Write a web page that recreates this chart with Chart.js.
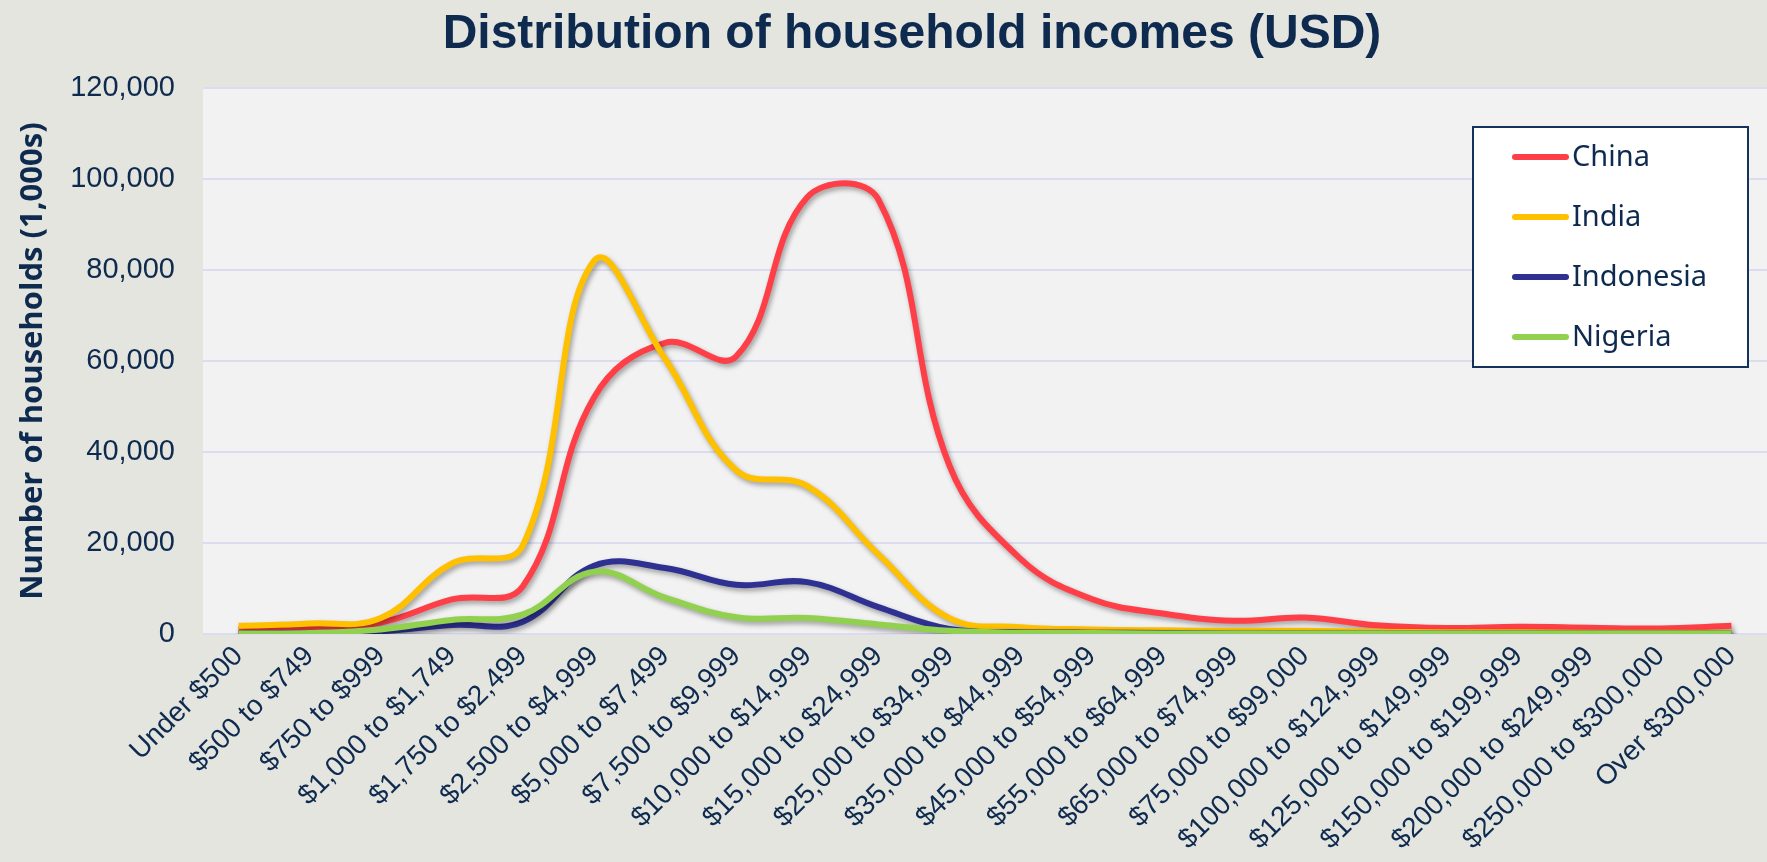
<!DOCTYPE html>
<html>
<head>
<meta charset="utf-8">
<title>Distribution of household incomes (USD)</title>
<script src="https://cdn.jsdelivr.net/npm/chart.js@4.4.1/dist/chart.umd.min.js"></script>
<style>
  html, body { margin: 0; padding: 0; background: #e4e5df; }
  canvas { display: block; }
</style>
</head>
<body>
<canvas id="incomeChart" width="1767" height="862"></canvas>
<script>
// income brackets (x axis)
const brackets = [
  'Under $500', '$500 to $749', '$750 to $999', '$1,000 to $1,749', '$1,750 to $2,499',
  '$2,500 to $4,999', '$5,000 to $7,499', '$7,500 to $9,999', '$10,000 to $14,999',
  '$15,000 to $24,999', '$25,000 to $34,999', '$35,000 to $44,999', '$45,000 to $54,999',
  '$55,000 to $64,999', '$65,000 to $74,999', '$75,000 to $99,000', '$100,000 to $124,999',
  '$125,000 to $149,999', '$150,000 to $199,999', '$200,000 to $249,999',
  '$250,000 to $300,000', 'Over $300,000'
];

// households in thousands
const china     = [1100, 1300, 2500, 7600, 10500, 52000, 64000, 61000, 96000, 95500, 37000, 16500, 7700, 4500, 2900, 3600, 1900, 1300, 1600, 1400, 1200, 1800];
const india     = [1800, 2300, 3500, 15500, 19500, 82000, 60500, 36000, 32500, 17500, 3500, 1500, 1000, 800, 700, 700, 500, 400, 400, 300, 300, 300];
const indonesia = [100, 200, 600, 2000, 2700, 15000, 14500, 10800, 11400, 5900, 1100, 400, 300, 200, 100, 100, 100, 100, 100, 100, 100, 100];
const nigeria   = [100, 200, 1000, 3100, 4300, 13700, 8000, 3700, 3500, 2100, 700, 300, 200, 100, 100, 100, 100, 100, 100, 100, 100, 100];

const yTicks = [0, 20000, 40000, 60000, 80000, 100000, 120000];

const navy = '#0e2a4f';
const chartTitle = 'Distribution of household incomes (USD)';

// grey page, lighter plot area
const backgroundPlugin = {
  id: 'backgrounds',
  beforeDraw(chart) {
    const { ctx, chartArea } = chart;
    ctx.save();
    ctx.fillStyle = '#e4e5df';
    ctx.fillRect(0, 0, chart.width, chart.height);
    ctx.fillStyle = '#f2f2f2';
    ctx.fillRect(chartArea.left, chartArea.top, chartArea.right - chartArea.left, chartArea.bottom - chartArea.top);
    ctx.restore();
  }
};

// soft drop shadow under the lines, like the original
const shadowPlugin = {
  id: 'lineShadow',
  beforeDatasetDraw(chart) {
    const ctx = chart.ctx;
    ctx.save();
    ctx.shadowColor = 'rgba(0, 0, 0, 0.35)';
    ctx.shadowBlur = 5;
    ctx.shadowOffsetX = 2;
    ctx.shadowOffsetY = 3;
  },
  afterDatasetDraw(chart) {
    chart.ctx.restore();
  }
};

// title sits a bit right of the canvas centre, so draw it by hand
const titlePlugin = {
  id: 'bigTitle',
  afterDraw(chart) {
    const ctx = chart.ctx;
    ctx.save();
    ctx.font = 'bold 48px "Liberation Sans", Arial, sans-serif';
    ctx.fillStyle = navy;
    ctx.textAlign = 'center';
    ctx.textBaseline = 'middle';
    ctx.fillText(chartTitle, 912, 35);
    ctx.restore();
  }
};

// boxed legend inside the plot, top right
const legendPlugin = {
  id: 'boxLegend',
  afterDraw(chart) {
    const ctx = chart.ctx;
    const box = { x: 1473, y: 127, w: 275, h: 240 };
    ctx.save();
    ctx.fillStyle = '#ffffff';
    ctx.fillRect(box.x, box.y, box.w, box.h);
    ctx.strokeStyle = '#14325a';
    ctx.lineWidth = 2;
    ctx.strokeRect(box.x, box.y, box.w, box.h);
    ctx.font = '29px "Noto Sans", "Open Sans", sans-serif';
    ctx.textBaseline = 'middle';
    ctx.lineCap = 'round';
    chart.data.datasets.forEach((ds, i) => {
      const y = 157 + i * 60;
      ctx.strokeStyle = ds.borderColor;
      ctx.lineWidth = 6;
      ctx.beginPath();
      ctx.moveTo(1515, y);
      ctx.lineTo(1566, y);
      ctx.stroke();
      ctx.fillStyle = navy;
      ctx.fillText(ds.label, 1572, y + 1);
    });
    ctx.restore();
  }
};

function makeSeries(label, data, color, order) {
  return {
    label: label,
    data: data,
    borderColor: color,
    backgroundColor: color,
    borderWidth: 6,
    pointRadius: 0,
    tension: 0.4,
    fill: false,
    order: order
  };
}

const ctx = document.getElementById('incomeChart');
new Chart(ctx, {
  type: 'line',
  data: {
    labels: brackets,
    datasets: [
      makeSeries('China', china, '#ff3f47', 4),
      makeSeries('India', india, '#ffc000', 3),
      makeSeries('Indonesia', indonesia, '#2e3192', 2),
      makeSeries('Nigeria', nigeria, '#92d050', 1)
    ]
  },
  options: {
    responsive: false,
    animation: false,
    layout: { padding: { top: 88, right: -13, left: 0, bottom: 0 } },
    plugins: {
      legend: { display: false },
      title: { display: false },
      tooltip: { enabled: false }
    },
    scales: {
      x: {
        offset: true,
        grid: { display: false, drawTicks: false },
        border: { display: false },
        ticks: {
          color: navy,
          font: { family: '"Liberation Sans", Arial, sans-serif', size: 28 },
          minRotation: 45,
          maxRotation: 45,
          autoSkip: false,
          padding: 6
        },
        afterFit(scale) { scale.height = 228; }
      },
      y: {
        min: 0,
        max: 120000,
        grid: { color: '#dcdcf0', lineWidth: 2, drawTicks: false },
        border: { display: false },
        afterBuildTicks(scale) {
          scale.ticks = yTicks.map(v => ({ value: v }));
        },
        ticks: {
          color: navy,
          padding: 28,
          font: { family: '"Liberation Sans", Arial, sans-serif', size: 29 },
          callback: v => v.toLocaleString('en-US')
        },
        title: {
          display: true,
          text: 'Number of households (1,000s)',
          color: navy,
          font: { family: '"Open Sans", "Noto Sans", sans-serif', size: 31, weight: 'bold' },
          padding: { top: 15, bottom: 0 }
        },
        afterFit(scale) { scale.width = 203; }
      }
    }
  },
  plugins: [backgroundPlugin, shadowPlugin, titlePlugin, legendPlugin]
});
</script>
</body>
</html>
